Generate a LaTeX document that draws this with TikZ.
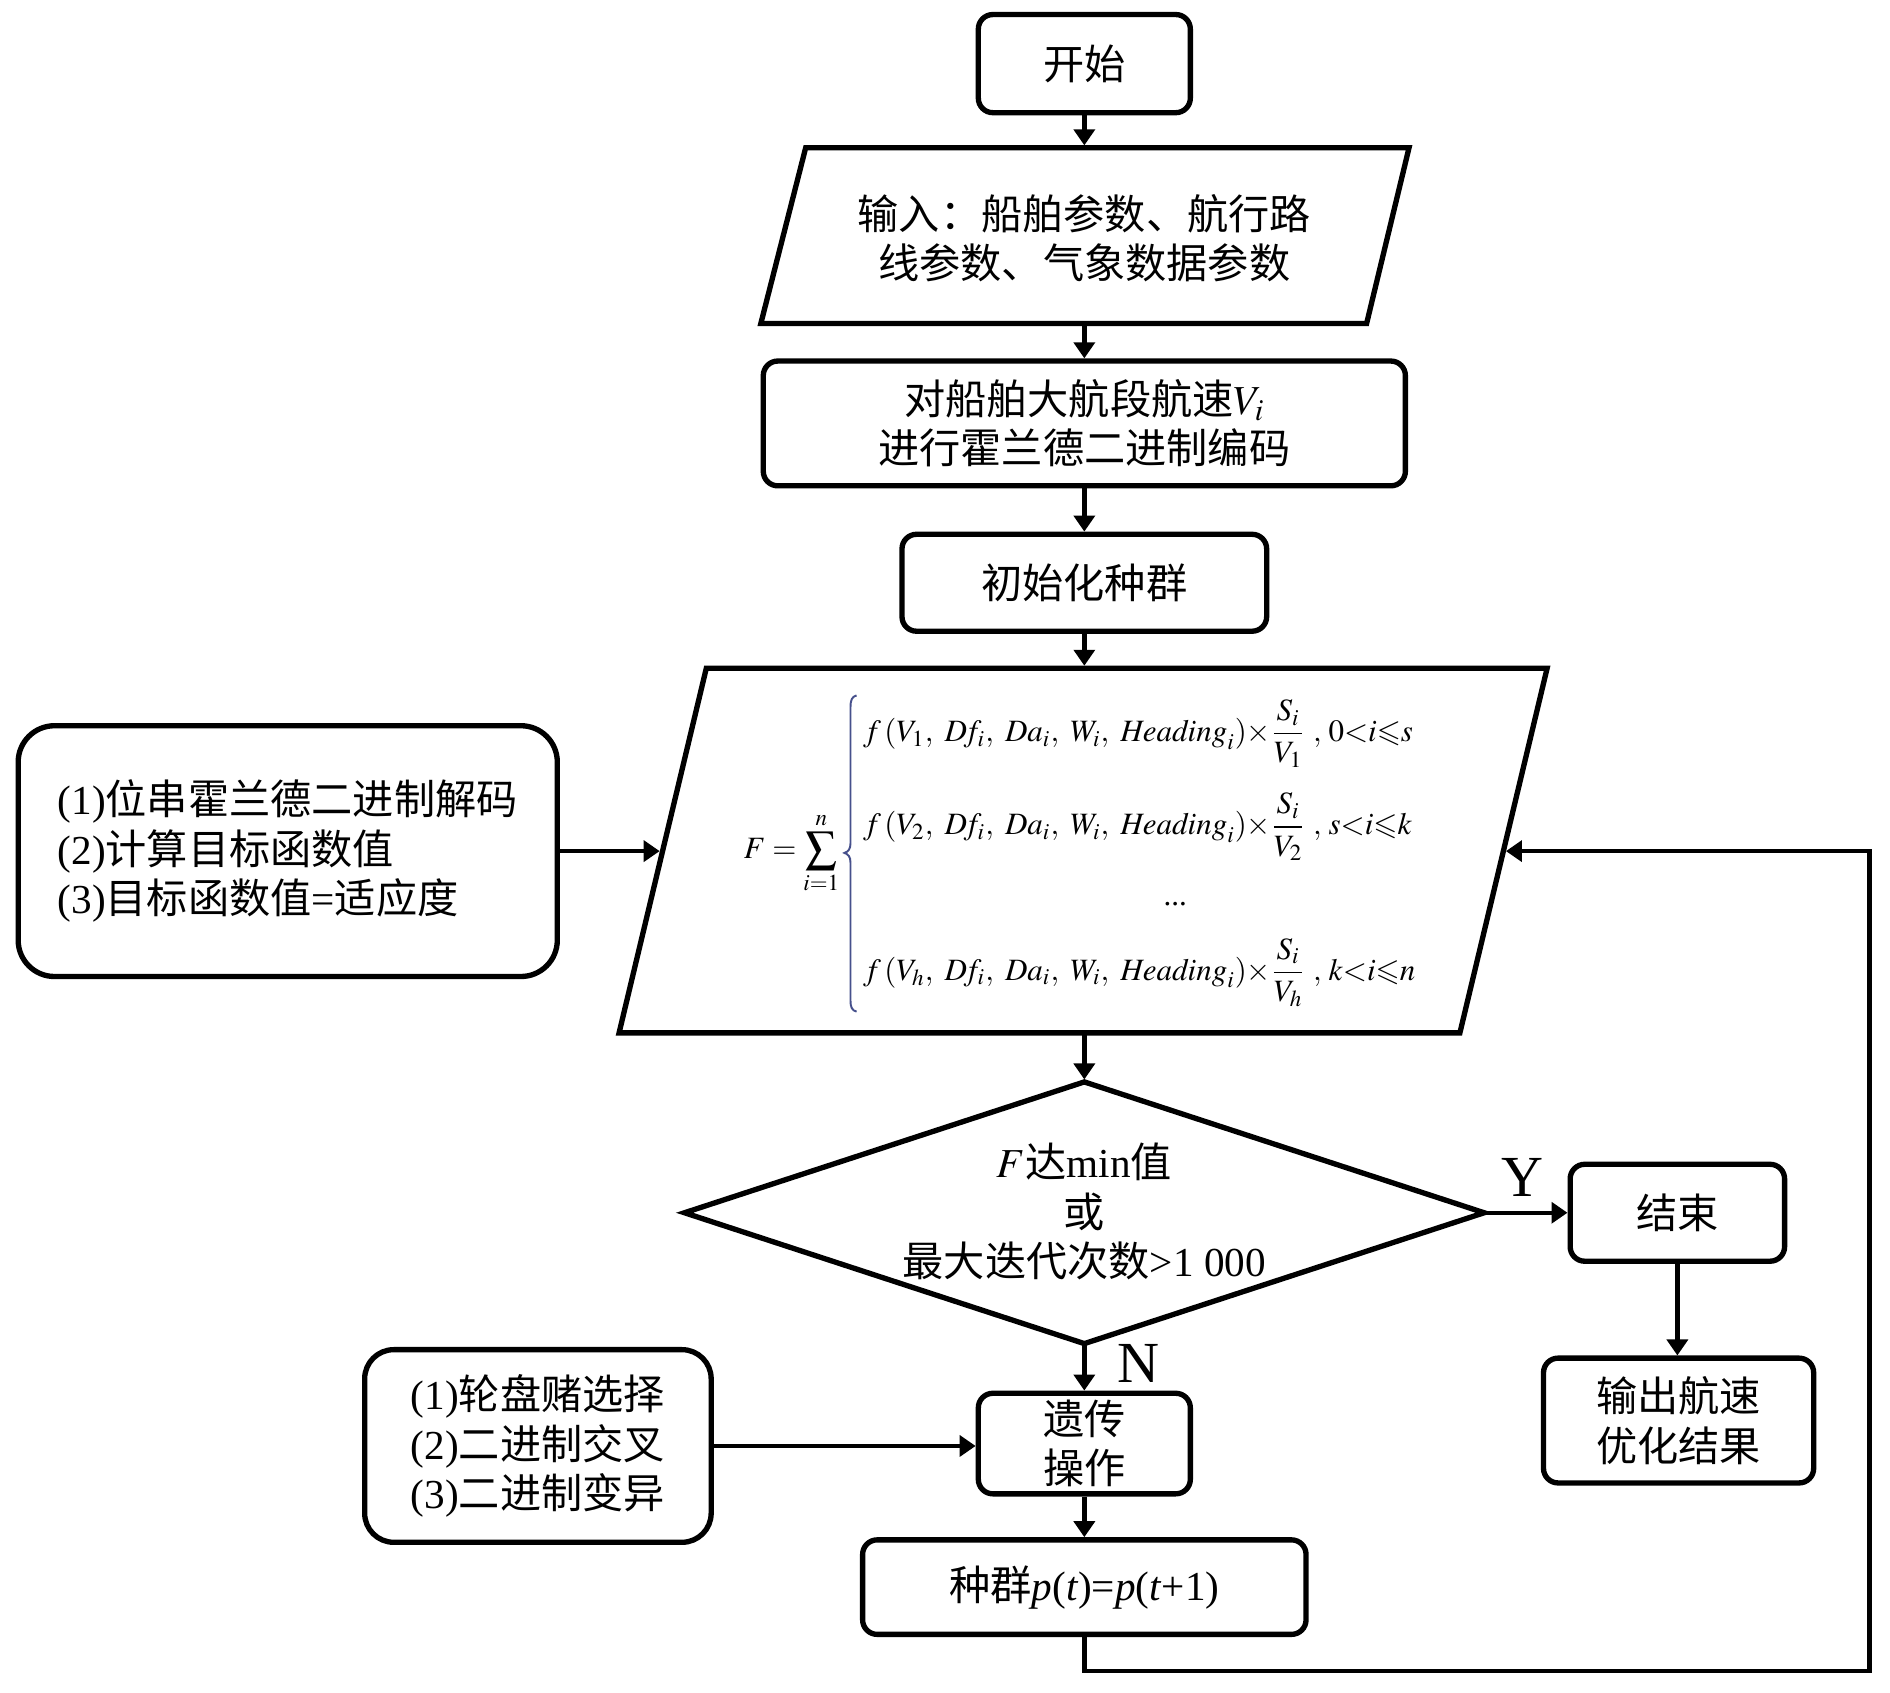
\documentclass[tikz,border=0pt]{standalone}
\usepackage{amsmath}
\usepackage{mathptmx}
\usepackage{amssymb}
\usepackage{fontspec}
\setmainfont{Liberation Serif}
\newfontfamily\zh{Noto Sans CJK SC}
\usetikzlibrary{arrows.meta}
\newcommand\mainfs{\fontsize{17pt}{20.3pt}\selectfont}
\newcommand\formfs{\fontsize{12.8pt}{16pt}\selectfont}
\newcommand\labfs{\fontsize{24pt}{24pt}\selectfont}
\newcommand\frow[3]{$f\,(V_{#1},\ D\!f_i,\ Da_i,\ W_i,\ \mathit{Heading}_i){\times}\dfrac{S_i}{V_{#1}}\ ,\,#2{<}i{\leqslant}#3$}
\begin{document}
\begin{tikzpicture}[x=0.5pt,y=-0.5pt,
  box/.style={draw, line width=2.2pt, rounded corners=6pt, inner sep=0pt, align=center, font=\mainfs},
  txt/.style={inner sep=0pt, align=center, font=\mainfs},
  shapeline/.style={line width=2.2pt, line join=miter},
  conn/.style={line width=1.8pt, -{Triangle[width=8.6pt,length=6.6pt]}},
  frm/.style={inner sep=0pt, font=\formfs},
  lab/.style={inner sep=0pt, font=\labfs},
  bracecol/.style={line width=0.8pt, draw={rgb,255:red,70;green,80;blue,140}}]
\fill[white] (0,0) rectangle (1560,1397);
\useasboundingbox (0,0) rectangle (1560,1397);

% start
\node[box, minimum width=87.5pt, minimum height=40.5pt] (start) at (895,52.5) {\zh 开始};

% input parallelogram
\draw[shapeline] (665,122) -- (1163,122) -- (1128,267) -- (628,267) -- cycle;
\coordinate (inpT) at (895,120);
\coordinate (inpB) at (895,267);
\node[txt] (inp) at (895,196.5) {\zh 输入：船舶参数、航行路\\\zh 线参数、气象数据参数};

% encode
\node[box, minimum width=265pt, minimum height=51.5pt] (enc) at (895,349.5) {{\zh 对船舶大航段航速}$V_i$\\{\zh 进行霍兰德二进制编码}};

% init
\node[box, minimum width=150.5pt, minimum height=40pt] (init) at (895,481) {\zh 初始化种群};

% formula parallelogram
\draw[shapeline] (583,551.5) -- (1277,551.5) -- (1205,852.5) -- (511,852.5) -- cycle;
\coordinate (paraT) at (895,549.5);
\coordinate (paraB) at (895,852.5);
\coordinate (pL) at (544.5,702.5);
\coordinate (pR) at (1243,702.5);

\node[frm, anchor=east] (fsum) at (693,704) {$F=\displaystyle\sum_{i=1}^{n}$};
\draw[bracecol] (707,574) .. controls (703,575) and (702,578) .. (702,584) -- (702,696)
  .. controls (702,701) and (700,703) .. (697,704) .. controls (700,705) and (702,707) .. (702,712)
  -- (702,826) .. controls (702,831) and (703,834) .. (707,835);
\node[frm, anchor=base west] (row1) at (712,612) {\frow{1}{0}{s}};
\node[frm, anchor=base west] (row2) at (712,689) {\frow{2}{s}{k}};
\node[frm, anchor=base] (rowd) at (970,747) {...};
\node[frm, anchor=base west] (row3) at (712,809) {\frow{h}{k}{n}};

% left box
\node[box, rounded corners=15pt, minimum width=222.5pt, minimum height=103.5pt, align=left] (lbox) at (237.5,702.5)
  {(1){\zh 位串霍兰德二进制解码}\\(2){\zh 计算目标函数值}\\(3){\zh 目标函数值}={\zh 适应度}};

% diamond
\draw[shapeline] (895,893) -- (1225,1001) -- (895,1109) -- (565,1001) -- cycle;
\coordinate (dT) at (895,891);
\coordinate (dB) at (895,1109);
\coordinate (dR) at (1225,1001);
\node[txt] (dtext) at (895,1000) {$F${\zh 达}min{\zh 值}\\{\zh 或}\\{\zh 最大迭代次数}>1\kern.25em000};

% end and output
\node[box, minimum width=88.5pt, minimum height=40pt] (end) at (1384.5,1001) {\zh 结束};
\node[box, minimum width=111.5pt, minimum height=51.5pt] (out) at (1385.5,1172.5) {\zh 输出航速\\\zh 优化结果};

% genetic ops
\node[box, minimum width=87.5pt, minimum height=41.5pt] (gen) at (895,1191.5) {\zh 遗传\\\zh 操作};
\node[box, rounded corners=12pt, minimum width=143pt, minimum height=79.5pt, align=left] (lbox2) at (444,1193.5)
  {(1){\zh 轮盘赌选择}\\(2){\zh 二进制交叉}\\(3){\zh 二进制变异}};

% population
\node[box, minimum width=183pt, minimum height=39pt] (pop) at (895,1310) {{\zh 种群}\textit{p}(\textit{t})=\textit{p}(\textit{t}+1)};

% labels
\node[lab] (ylab) at (1257,972) {Y};
\node[lab] (nlab) at (940,1125) {N};

% connectors
\draw[conn] (start.south) -- (inpT);
\draw[conn] (inpB) -- (enc.north);
\draw[conn] (enc.south) -- (init.north);
\draw[conn] (init.south) -- (paraT);
\draw[conn] (lbox.east) -- (pL);
\draw[conn] (paraB) -- (dT);
\draw[conn] (dR) -- (end.west);
\draw[conn] (end.south) -- (end.south |- out.north);
\draw[conn] (dB) -- (gen.north);
\draw[conn] (lbox2.east) -- (lbox2.east -| gen.west);
\draw[conn] (gen.south) -- (pop.north);
\coordinate (lp1) at (895,1379);
\coordinate (lp2) at (1543,1379);
\coordinate (lp3) at (1543,702.5);
\draw[conn] (pop.south) -- (lp1) -- (lp2) -- (lp3) -- (pR);
\end{tikzpicture}
\end{document}
